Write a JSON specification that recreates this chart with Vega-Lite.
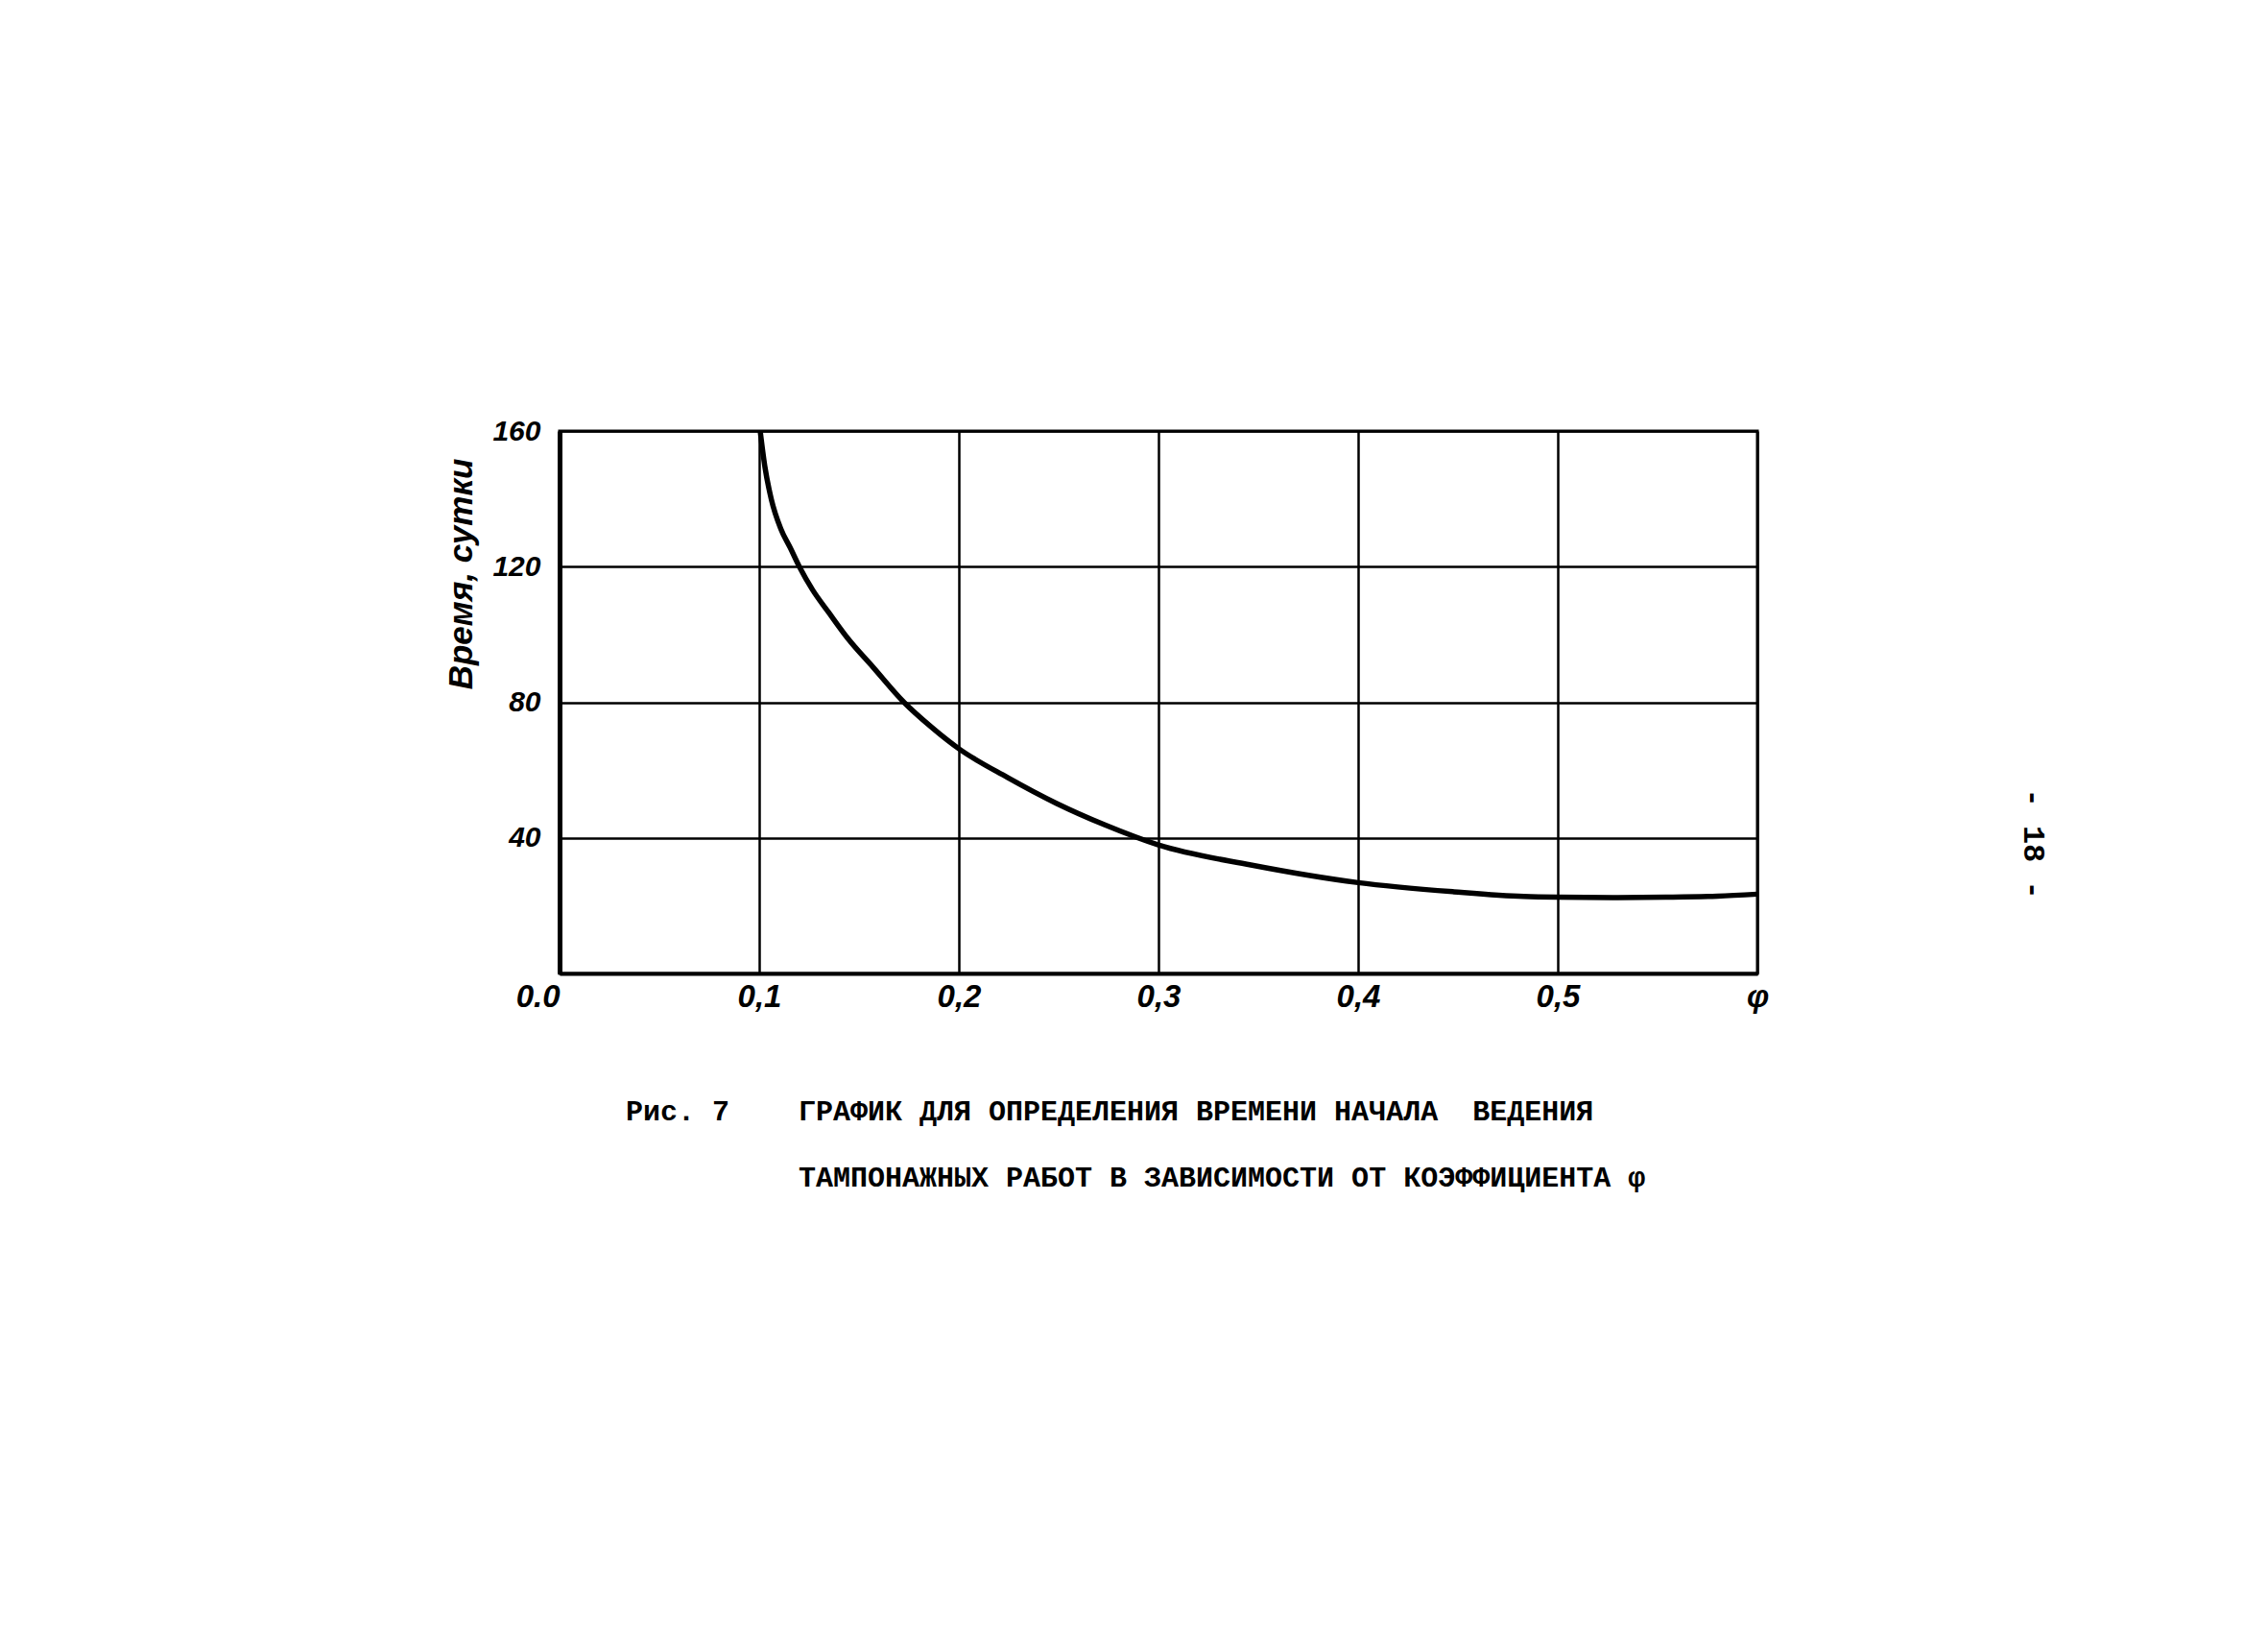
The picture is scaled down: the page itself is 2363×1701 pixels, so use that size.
{
  "$schema": "https://vega.github.io/schema/vega-lite/v6.json",
  "autosize": "none",
  "width": 1248,
  "height": 565,
  "padding": {"left": 583, "top": 449, "right": 532, "bottom": 687},
  "background": "white",
  "config": {
    "view": {"stroke": "black", "strokeWidth": 3},
    "axis": {"gridColor": "black", "gridWidth": 2.5, "gridOpacity": 1, "domainColor": "black", "ticks": false, "labelColor": "black", "titleColor": "black"}
  },
  "title": {
    "text": ["Рис. 7\u00a0\u00a0\u00a0\u00a0ГРАФИК ДЛЯ ОПРЕДЕЛЕНИЯ ВРЕМЕНИ НАЧАЛА\u00a0\u00a0ВЕДЕНИЯ", "\u200b\u00a0\u00a0\u00a0\u00a0\u00a0\u00a0\u00a0\u00a0\u00a0\u00a0ТАМПОНАЖНЫХ РАБОТ В ЗАВИСИМОСТИ ОТ КОЭФФИЦИЕНТА φ"],
    "orient": "bottom",
    "anchor": "start",
    "frame": "group",
    "dx": 69,
    "offset": 88,
    "font": "Liberation Mono",
    "fontSize": 30,
    "fontWeight": "bold",
    "lineHeight": 69,
    "color": "black"
  },
  "data": {"values": [
    {"phi": 0.1005, "t": 160},
    {"phi": 0.1029, "t": 149.3},
    {"phi": 0.1061, "t": 139.8},
    {"phi": 0.1108, "t": 131.2},
    {"phi": 0.1156, "t": 125.5},
    {"phi": 0.1201, "t": 120},
    {"phi": 0.1268, "t": 113.1},
    {"phi": 0.1348, "t": 106.5},
    {"phi": 0.1443, "t": 98.9},
    {"phi": 0.1571, "t": 90.3},
    {"phi": 0.1725, "t": 80},
    {"phi": 0.186, "t": 72.8},
    {"phi": 0.2, "t": 66.3},
    {"phi": 0.2244, "t": 57.8},
    {"phi": 0.2488, "t": 50.2},
    {"phi": 0.2732, "t": 43.8},
    {"phi": 0.3, "t": 37.9},
    {"phi": 0.3463, "t": 32},
    {"phi": 0.4, "t": 26.8},
    {"phi": 0.448, "t": 24.1},
    {"phi": 0.483, "t": 22.7},
    {"phi": 0.5, "t": 22.5},
    {"phi": 0.53, "t": 22.4},
    {"phi": 0.554, "t": 22.5},
    {"phi": 0.58, "t": 22.8},
    {"phi": 0.6, "t": 23.4}
  ]},
  "layer": [
    {
      "mark": {"type": "line", "color": "black", "strokeWidth": 5.5, "interpolate": "monotone"},
      "encoding": {
        "x": {
          "field": "phi", "type": "quantitative",
          "scale": {"domain": [0, 0.6], "nice": false, "zero": false},
          "axis": {
            "values": [0, 0.1, 0.2, 0.3, 0.4, 0.5, 0.6],
            "title": null,
            "grid": true,
            "domainWidth": 4,
            "labelExpr": "datum.value == 0 ? '0.0' : (datum.value > 0.59 ? 'φ' : replace(format(datum.value, '.1f'), '.', ','))",
            "labelFont": "Liberation Sans Narrow, Liberation Sans",
            "labelFontSize": 33,
            "labelFontWeight": "bold",
            "labelFontStyle": "italic",
            "labelPadding": 8,
            "labelAlign": {"condition": {"test": "datum.value == 0", "value": "right"}, "value": "center"},
            "labelOverlap": false,
            "labelFlush": false,
            "labelBound": false
          }
        },
        "y": {
          "field": "t", "type": "quantitative",
          "scale": {"domain": [0, 160], "nice": false},
          "axis": {
            "values": [0, 40, 80, 120, 160],
            "title": "Время, сутки",
            "titleFont": "Liberation Sans Narrow, Liberation Sans",
            "titleFontSize": 35,
            "titleFontWeight": "bold",
            "titleFontStyle": "italic",
            "titleAnchor": "end",
            "titleY": 28,
            "titlePadding": 14,
            "grid": true,
            "domainWidth": 5,
            "labelExpr": "datum.value == 0 ? '' : datum.label",
            "labelFont": "Liberation Sans Narrow, Liberation Sans",
            "labelFontSize": 30,
            "labelFontWeight": "bold",
            "labelFontStyle": "italic",
            "labelPadding": 20,
            "labelOverlap": false,
            "labelFlush": false,
            "labelBound": false
          }
        }
      }
    },
    {
      "mark": {"type": "rule", "opacity": 0},
      "encoding": {
        "y": {
          "datum": 0, "type": "quantitative",
          "axis": {
            "orient": "right",
            "title": "- 18 -",
            "titleAngle": 90,
            "titleFont": "Liberation Mono",
            "titleFontSize": 32,
            "titleFontWeight": "bold",
            "titlePadding": 270,
            "titleAnchor": "start",
            "titleY": 372,
            "labels": false,
            "domain": false,
            "grid": false,
            "ticks": false
          }
        }
      }
    }
  ],
  "resolve": {"axis": {"y": "independent"}}
}
